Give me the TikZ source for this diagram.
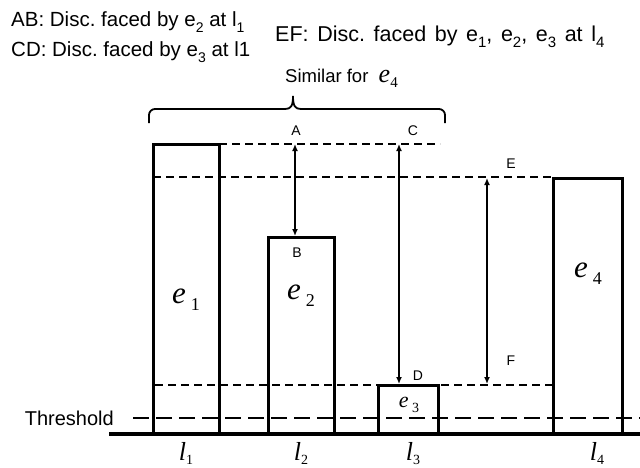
\documentclass[tikz,border=0pt]{standalone}
\usepackage{fontspec}
\setmainfont{Liberation Sans}
\newfontfamily\serf{Liberation Serif}
\usetikzlibrary{arrows.meta}
\frenchspacing
\newcommand{\sbs}[1]{\raisebox{-0.3em}{\fontsize{14}{14}\selectfont #1}}
\newcommand{\ebig}[1]{{\serf\itshape e}\,\raisebox{-7pt}{\fontsize{18}{18}\selectfont\serf #1}}
\newcommand{\lbl}[1]{{\serf\itshape l}\raisebox{-4pt}{\fontsize{14}{14}\selectfont\serf #1}}
\begin{document}
\begin{tikzpicture}[x=1pt,y=-1pt,
  bar/.style={line width=3pt, line join=miter},
  base/.style={line width=4pt},
  dsh/.style={line width=1.6pt, dash pattern=on 8pt off 5pt},
  thr/.style={line width=1.6pt, dash pattern=on 16pt off 7pt},
  dbl/.style={line width=1.8pt, {Latex[length=7pt,width=6pt]}-{Latex[length=7pt,width=6pt]}},
  txt/.style={inner sep=0pt, font=\fontsize{20.5}{24}\selectfont},
  pt/.style={inner sep=0pt, font=\fontsize{14}{16}\selectfont},
  big/.style={inner sep=0pt, font=\fontsize{31}{34}\selectfont},
  lab/.style={inner sep=0pt, font=\fontsize{26}{28}\selectfont}
]
\useasboundingbox (0,0) rectangle (640,467);
% header texts
\node[txt, anchor=base west] (ab) at (11,26) {AB: Disc. faced by e\sbs{2} at l\sbs{1}};
\node[txt, anchor=base west] (cd) at (11,56) {CD: Disc. faced by e\sbs{3} at l1};
\node[txt, anchor=base west, font=\fontsize{21.5}{24}\selectfont] (ef) at (275,41)
  {\spaceskip=8.6pt plus 1pt EF: Disc. faced by e\raisebox{-0.3em}{\fontsize{15}{15}\selectfont 1}, e\raisebox{-0.3em}{\fontsize{15}{15}\selectfont 2}, e\raisebox{-0.3em}{\fontsize{15}{15}\selectfont 3} at l\raisebox{-0.3em}{\fontsize{15}{15}\selectfont 4}};
\node[inner sep=0pt, anchor=base west, font=\fontsize{18.5}{20}\selectfont] (sim) at (285,82)
  {Similar for \ {\fontsize{26}{26}\selectfont\serf\itshape e}\raisebox{-5pt}{\fontsize{15}{15}\selectfont\serf 4}};
% brace
\draw[line width=1.8pt] (149,123) -- (149,115) arc[start angle=180,end angle=270,radius=6] -- (285,109)
  .. controls (291,109) and (293,106) .. (293,96)
  .. controls (293,106) and (295,109) .. (301,109) -- (439,109)
  arc[start angle=-90,end angle=0,radius=6] -- (445,123);
% dashed levels
\draw[dsh] (219,144) -- (440,144);
\draw[dsh] (153,177) -- (553,177);
\draw[dsh] (155,385) -- (553,385);
\draw[thr] (133,418) -- (640,418);
% baseline
\draw[base] (109,434) -- (640,434);
% boxes
\draw[bar] (153,434) -- (153,144) -- (219,144) -- (219,434);
\draw[bar] (268,434) -- (268,237) -- (334,237) -- (334,434);
\draw[bar] (378,434) -- (378,385) -- (438,385) -- (438,434);
\draw[bar] (553,434) -- (553,178) -- (622,178) -- (622,434);
% arrow endpoints
\coordinate (pA) at (295,144);
\coordinate (pB) at (295,236);
\coordinate (pC) at (399,144);
\coordinate (pD) at (399,384);
\coordinate (pE) at (487,178);
\coordinate (pF) at (487,384);
\draw[dbl] (pA) -- (pB);
\draw[dbl] (pC) -- (pD);
\draw[dbl] (pE) -- (pF);
% point labels
\node[pt] (lA) at (296,131) {A};
\node[pt] (lB) at (297,253) {B};
\node[pt] (lC) at (413,131) {C};
\node[pt] (lD) at (418,376) {D};
\node[pt] (lE) at (511,164) {E};
\node[pt] (lF) at (511,361) {F};
% box labels
\node[big] (e1) at (186,300) {\ebig{1}};
\node[big] (e2) at (301,296) {\ebig{2}};
\node[big] (e4) at (588,274) {\ebig{4}};
\node[inner sep=0pt, font=\fontsize{22}{24}\selectfont] (e3) at (409,405)
  {{\serf\itshape e}\,\raisebox{-5pt}{\fontsize{14}{14}\selectfont\serf 3}};
% threshold
\node[txt, anchor=base east, font=\fontsize{20}{24}\selectfont] (th) at (114,425) {Threshold};
% location labels
\node[lab, anchor=base] (l1) at (186,460) {\lbl{1}};
\node[lab, anchor=base] (l2) at (301,460) {\lbl{2}};
\node[lab, anchor=base] (l3) at (413,460) {\lbl{3}};
\node[lab, anchor=base] (l4) at (597,460) {\lbl{4}};
\end{tikzpicture}
\end{document}
